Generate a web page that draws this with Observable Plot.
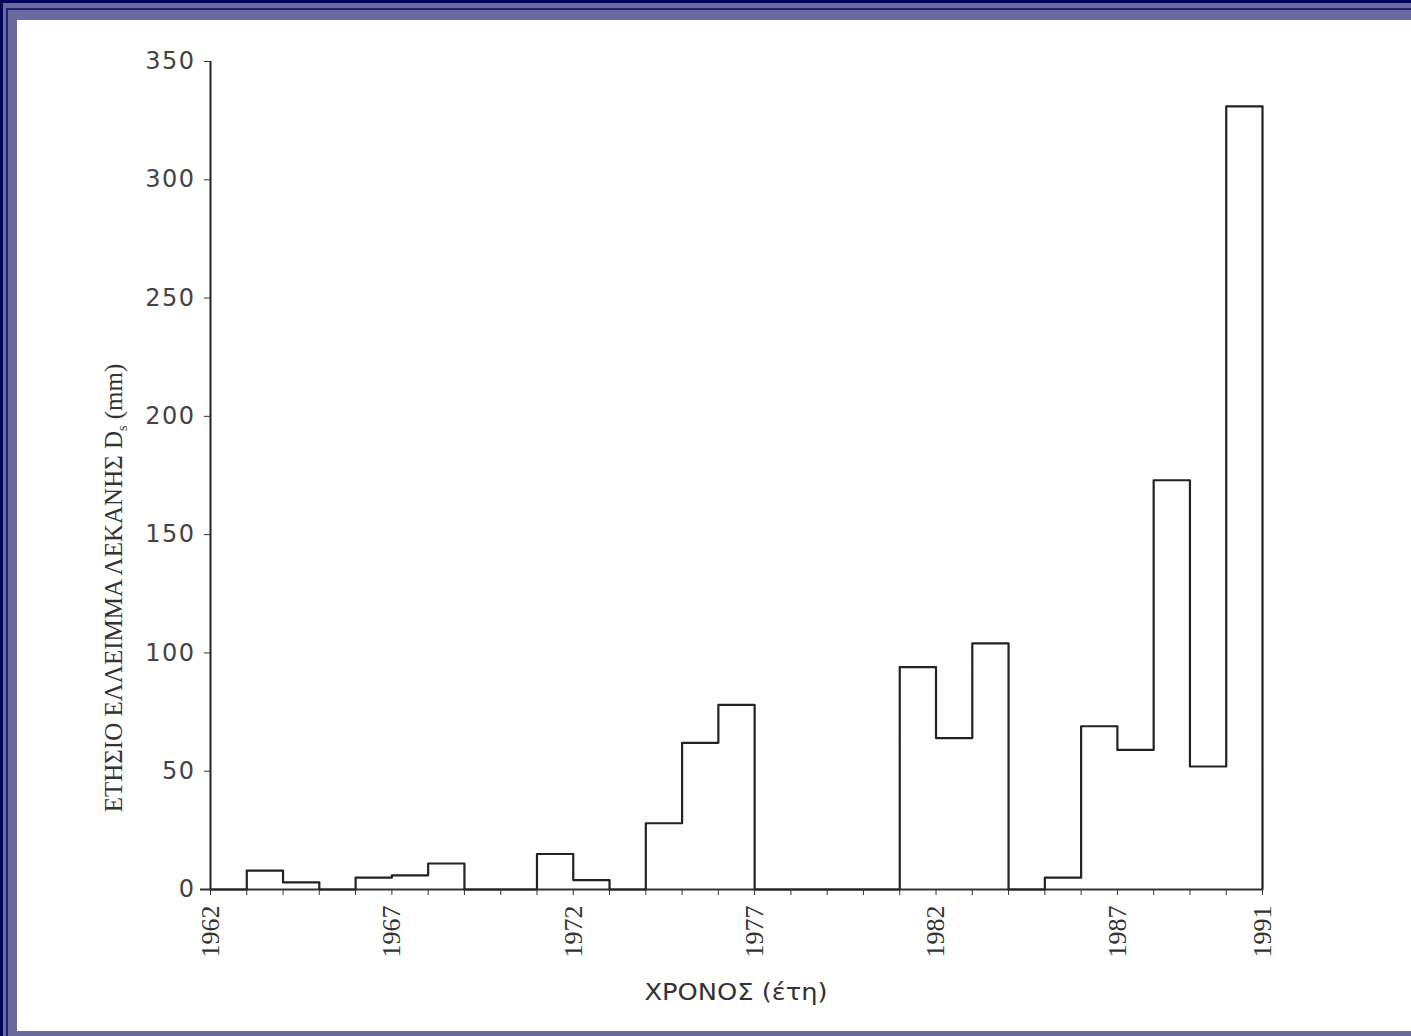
<!DOCTYPE html>
<html><head><meta charset="utf-8">
<script src="https://cdn.jsdelivr.net/npm/d3@7"></script>
<script src="https://cdn.jsdelivr.net/npm/@observablehq/plot@0.6"></script>
<style>
body{margin:0;width:1411px;height:1036px;overflow:hidden;background:#03035c;position:relative}
#f1{position:absolute;left:3px;top:3px;width:1408px;height:1033px;background:#6a6a9e}
#f2{position:absolute;left:6px;top:8px;width:1405px;height:2px;background:#20206e}
#f3{position:absolute;left:6px;top:8px;width:2px;height:1028px;background:#20206e}
#panel{position:absolute;left:17px;top:20px;width:1394px;height:1011px;background:#fff}
#chart{position:absolute;left:0;top:0}
</style></head>
<body>
<div id="f1"></div><div id="f2"></div><div id="f3"></div><div id="panel"></div>
<div id="chart"></div>
<script>
// Annual basin deficit, each value spans [year, year+1); final 1991 entry closes the outline
const years  = [1962,1963,1964,1965,1966,1967,1968,1969,1970,1971,1972,1973,1974,1975,1976,1977,1978,1979,1980,1981,1982,1983,1984,1985,1986,1987,1988,1989,1990,1991];
const values = [0,   8,   3,   0,   5,   6,   11,  0,   0,   15,  4,   0,   28,  62,  78,  0,   0,   0,   0,   94,  64,  104, 0,   5,   69,  59,  173, 52,  331, 0];
const yTicks = [0, 50, 100, 150, 200, 250, 300, 350];
const xLabelYears = [1962, 1967, 1972, 1977, 1982, 1987, 1991];
const yLabel = "ΕΤΗΣΙΟ ΕΛΛΕΙΜΜΑ ΛΕΚΑΝΗΣ D";
const xLabel = "ΧΡΟΝΟΣ (έτη)";

const series = years.map((y, i) => ({year: y, value: values[i]}));

const chart = Plot.plot({
  width: 1411, height: 1036,
  marginLeft: 210, marginRight: 149, marginTop: 61, marginBottom: 147,
  x: {domain: [1962, 1991]},
  y: {domain: [0, 350]},
  style: {background: "transparent", color: "#333", overflow: "visible"},
  marks: [
    Plot.ruleY([0], {stroke: "#333", strokeWidth: 2, insetLeft: -10}),
    Plot.ruleX([1962], {stroke: "#222", strokeWidth: 2}),
    Plot.line(series, {x: "year", y: "value", curve: "step-after", stroke: "#222", strokeWidth: 2.2}),
    Plot.axisY({ticks: yTicks, tickSize: 6, tickPadding: 9, label: null,
      fontSize: 24, fontFamily: "DejaVu Sans", fill: "#444", stroke: "#333"}),
    Plot.axisX({ticks: years, tickSize: 6, tickFormat: () => "", label: null, stroke: "#333"}),
    Plot.axisX({ticks: xLabelYears, tickSize: 0, tickPadding: 16, tickRotate: -90, label: null,
      tickFormat: d => String(d), fontSize: 26, fontFamily: "Liberation Serif", fill: "#333"})
  ]
});
document.getElementById("chart").appendChild(chart);

const svg = d3.select(chart);
svg.selectAll("g[aria-label='y-axis tick label'] text").attr("letter-spacing", "1.5");

const yl = svg.append("text")
  .attr("transform", "translate(122,588) rotate(-90)")
  .attr("text-anchor", "middle")
  .attr("font-family", "Liberation Serif")
  .attr("font-size", 25)
  .attr("fill", "#333");
yl.append("tspan").text(yLabel);
yl.append("tspan").attr("font-size", 14).attr("dy", 5).text("s");
yl.append("tspan").attr("dy", -5).text(" (mm)");

svg.append("text")
  .attr("x", 736).attr("y", 1000)
  .attr("text-anchor", "middle")
  .attr("font-family", "DejaVu Sans Condensed, Liberation Sans Narrow, sans-serif")
  .attr("font-size", 23)
  .attr("fill", "#333")
  .attr("textLength", 183)
  .attr("lengthAdjust", "spacingAndGlyphs")
  .text(xLabel);
</script>
</body></html>
